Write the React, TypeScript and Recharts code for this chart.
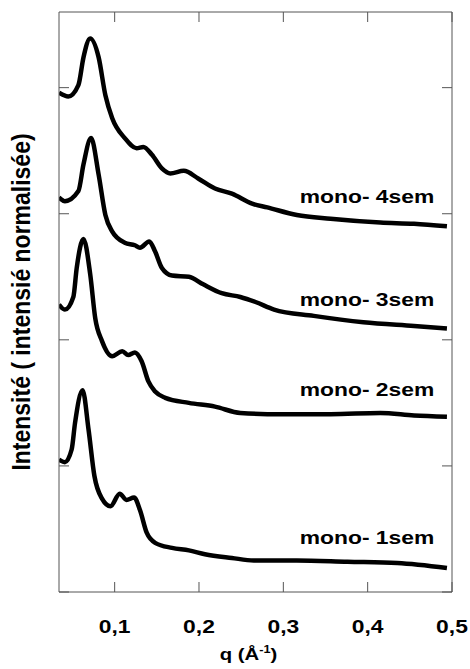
import { LineChart, Line, XAxis, YAxis, ReferenceDot } from "recharts";

// q (Å^-1) and normalised intensity, one pair of arrays per sample (stacked, offset by 1 unit)
const q4 = [0.034, 0.045, 0.057, 0.063, 0.071, 0.081, 0.089, 0.097, 0.112, 0.126, 0.134, 0.144, 0.156, 0.166, 0.182, 0.199, 0.219, 0.239, 0.263, 0.281, 0.316, 0.356, 0.415, 0.455, 0.494];
const i4 = [3.96, 3.93, 4.02, 4.24, 4.39, 4.24, 3.94, 3.76, 3.6, 3.52, 3.53, 3.47, 3.36, 3.32, 3.34, 3.28, 3.2, 3.16, 3.08, 3.05, 2.99, 2.96, 2.93, 2.92, 2.9];

const q3 = [0.034, 0.041, 0.057, 0.063, 0.072, 0.081, 0.089, 0.097, 0.112, 0.124, 0.13, 0.141, 0.148, 0.156, 0.168, 0.188, 0.205, 0.227, 0.249, 0.267, 0.289, 0.336, 0.395, 0.455, 0.494];
const i3 = [3.13, 3.1, 3.18, 3.39, 3.6, 3.31, 2.99, 2.86, 2.77, 2.75, 2.73, 2.78, 2.7, 2.57, 2.51, 2.5, 2.44, 2.37, 2.34, 2.3, 2.24, 2.19, 2.14, 2.11, 2.09];

const q2 = [0.034, 0.041, 0.051, 0.055, 0.063, 0.071, 0.077, 0.085, 0.097, 0.109, 0.116, 0.124, 0.132, 0.14, 0.148, 0.16, 0.188, 0.219, 0.249, 0.297, 0.356, 0.415, 0.455, 0.494];
const i2 = [2.28, 2.24, 2.34, 2.57, 2.8, 2.52, 2.17, 1.99, 1.87, 1.91, 1.88, 1.9, 1.83, 1.67, 1.59, 1.54, 1.5, 1.47, 1.42, 1.41, 1.41, 1.42, 1.4, 1.39];

const q1 = [0.034, 0.041, 0.049, 0.053, 0.062, 0.069, 0.076, 0.085, 0.095, 0.106, 0.114, 0.123, 0.13, 0.138, 0.148, 0.168, 0.188, 0.207, 0.239, 0.265, 0.316, 0.376, 0.435, 0.494];
const i1 = [1.05, 1.03, 1.13, 1.34, 1.6, 1.29, 0.92, 0.74, 0.68, 0.78, 0.73, 0.75, 0.65, 0.47, 0.39, 0.35, 0.33, 0.3, 0.27, 0.25, 0.25, 0.24, 0.23, 0.19];

const seriesNames = ["mono- 1sem", "mono- 2sem", "mono- 3sem", "mono- 4sem"];
const labelY = [0.43, 1.61, 2.32, 3.14];

const xTicks = [0.1, 0.2, 0.3, 0.4, 0.5];
const yTicks = [0, 1, 2, 3, 4];

const font = "'Liberation Sans', Arial, sans-serif";
const axisColor = "#555";
const stretch = 1.27;

function toPoints(q: number[], v: number[]) {
  return q.map((x, k) => ({ q: x, v: v[k] }));
}

const series = [toPoints(q1, i1), toPoints(q2, i2), toPoints(q3, i3), toPoints(q4, i4)];

function BottomTick({ x, y, payload }: any) {
  return (
    <g>
      <line x1={x} y1={y} x2={x} y2={y - 10} stroke={axisColor} />
      <text
        transform={`translate(${x},${y + 41}) scale(${stretch},1)`}
        textAnchor="middle"
        fontFamily={font}
        fontWeight="bold"
        fontSize={18}
        fill="#000"
      >
        {payload.value.toFixed(1).replace(".", ",")}
      </text>
    </g>
  );
}

function TopTick({ x, y }: any) {
  return <line x1={x} y1={y} x2={x} y2={y + 10} stroke={axisColor} />;
}

function LeftTick({ x, y }: any) {
  return <line x1={x} y1={y} x2={x + 10} y2={y} stroke={axisColor} />;
}

function RightTick({ x, y }: any) {
  return <line x1={x} y1={y} x2={x - 10} y2={y} stroke={axisColor} />;
}

function XTitle({ viewBox }: any) {
  const cx = viewBox.x + viewBox.width / 2 - 7;
  return (
    <text
      transform={`translate(${cx},${viewBox.y + 68}) scale(${stretch},1)`}
      textAnchor="middle"
      fontFamily={font}
      fontWeight="bold"
      fontSize={16}
      fill="#000"
    >
      q (Å
      <tspan dy={-7} fontSize={10}>
        -1
      </tspan>
      <tspan dy={7}>)</tspan>
    </text>
  );
}

function YTitle({ viewBox }: any) {
  const cy = viewBox.y + viewBox.height / 2;
  return (
    <text
      transform={`translate(${viewBox.x - 37},${cy}) scale(1.1,1) rotate(-90)`}
      textAnchor="middle"
      dominantBaseline="central"
      fontFamily={font}
      fontWeight="bold"
      fontSize={23}
      fill="#000"
    >
      Intensité ( intensié normalisée)
    </text>
  );
}

function SeriesLabel({ cx, cy, text }: any) {
  return (
    <text
      transform={`translate(${cx},${cy}) scale(${stretch},1)`}
      textAnchor="end"
      dominantBaseline="central"
      fontFamily={font}
      fontWeight="bold"
      fontSize={18}
      fill="#000"
    >
      {text}
    </text>
  );
}

export default function App() {
  return (
    <div style={{ position: "absolute", left: 0, top: 0, width: 470, height: 669, background: "#fff" }}>
      <LineChart width={470} height={669} margin={{ top: 11, right: 17, bottom: 76, left: 58 }}>
        <XAxis
          xAxisId="b"
          dataKey="q"
          type="number"
          domain={[0.034, 0.5]}
          ticks={xTicks}
          allowDataOverflow
          height={1}
          tickSize={0}
          tickMargin={0}
          tickLine={false}
          tick={<BottomTick />}
          axisLine={{ stroke: axisColor }}
          label={<XTitle />}
        />
        <XAxis
          xAxisId="t"
          orientation="top"
          dataKey="q"
          type="number"
          domain={[0.034, 0.5]}
          ticks={xTicks}
          allowDataOverflow
          height={1}
          tickSize={0}
          tickMargin={0}
          tickLine={false}
          tick={<TopTick />}
          axisLine={{ stroke: axisColor }}
        />
        <YAxis
          yAxisId="l"
          type="number"
          domain={[0, 4.6]}
          ticks={yTicks}
          allowDataOverflow
          width={1}
          tickSize={0}
          tickMargin={0}
          tickLine={false}
          tick={<LeftTick />}
          axisLine={{ stroke: axisColor }}
          label={<YTitle />}
        />
        <YAxis
          yAxisId="r"
          orientation="right"
          type="number"
          domain={[0, 4.6]}
          ticks={yTicks}
          allowDataOverflow
          width={1}
          tickSize={0}
          tickMargin={0}
          tickLine={false}
          tick={<RightTick />}
          axisLine={{ stroke: axisColor }}
        />
        {series.map((pts, k) => (
          <Line
            key={seriesNames[k]}
            xAxisId="b"
            yAxisId="l"
            data={pts}
            dataKey="v"
            type="monotone"
            stroke="#000"
            strokeWidth={4.5}
            dot={false}
            isAnimationActive={false}
          />
        ))}
        {seriesNames.map((name, k) => (
          <ReferenceDot
            key={name}
            xAxisId="b"
            yAxisId="l"
            x={0.479}
            y={labelY[k]}
            r={0}
            shape={(p: any) => <SeriesLabel cx={p.cx} cy={p.cy} text={name} />}
          />
        ))}
      </LineChart>
    </div>
  );
}
